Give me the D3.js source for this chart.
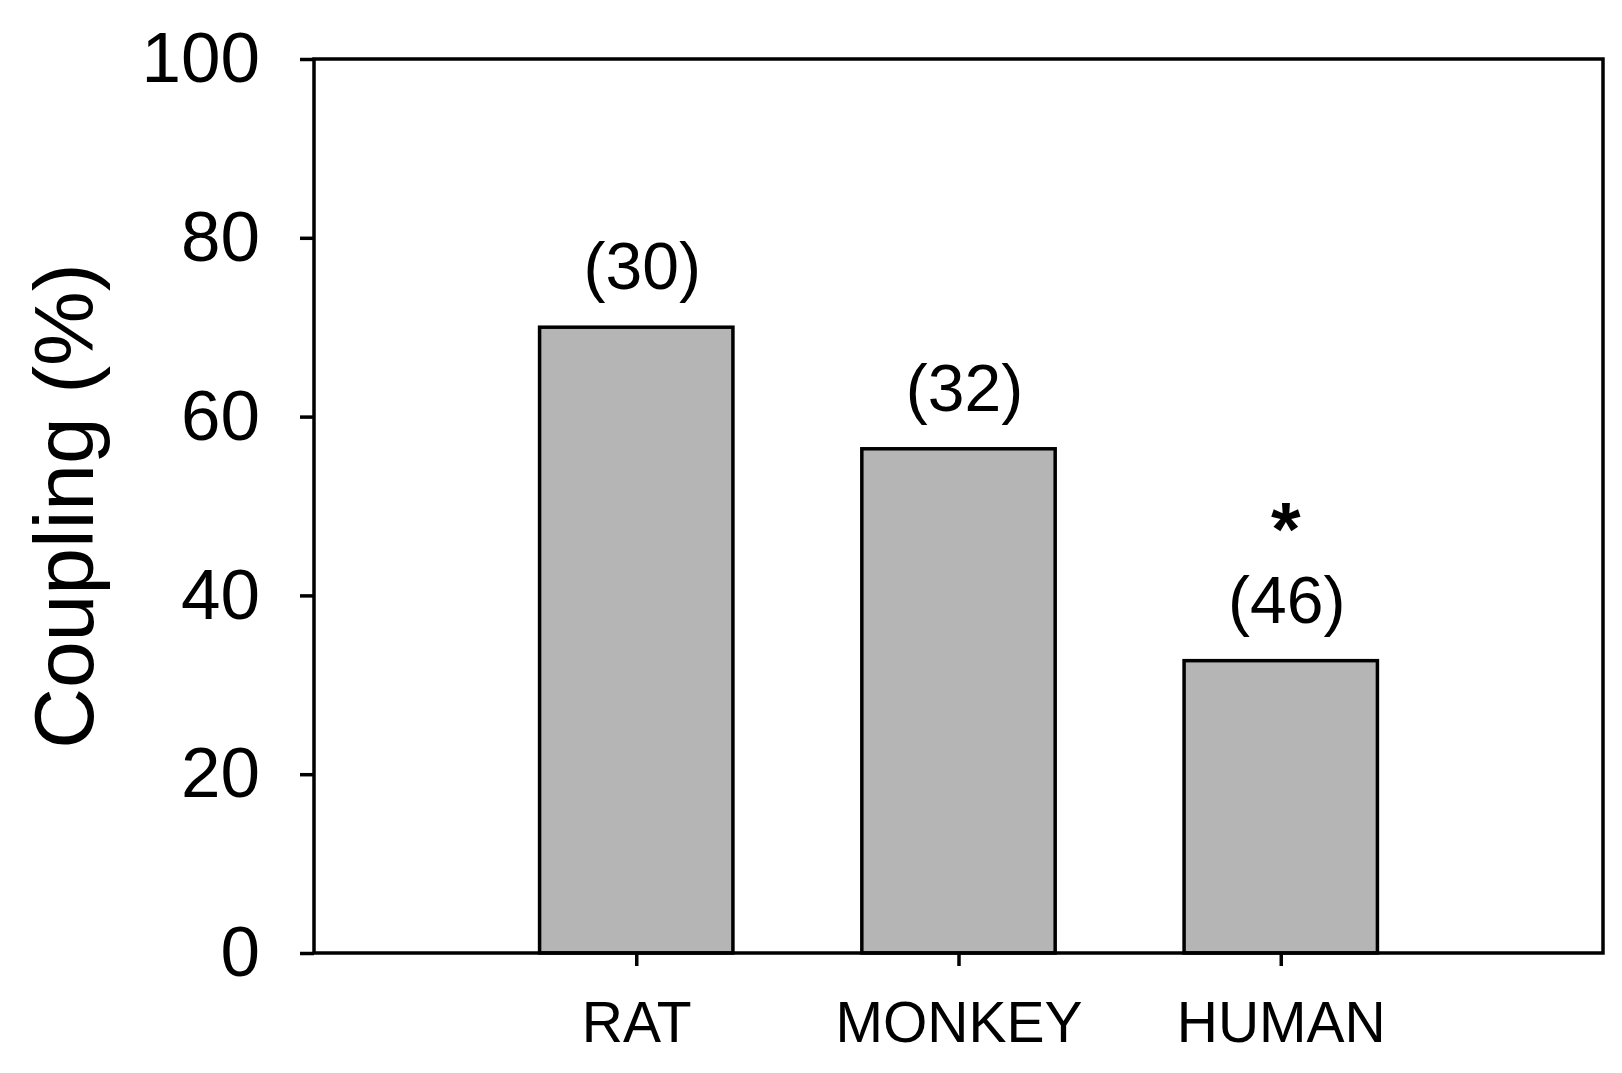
<!DOCTYPE html>
<html>
<head>
<meta charset="utf-8">
<script src="https://cdn.jsdelivr.net/npm/d3@7"></script>
<style>
  html, body { margin: 0; padding: 0; background: #fff; }
  svg { display: block; font-family: "Liberation Sans", Arial, Helvetica, sans-serif; }
</style>
</head>
<body>
<svg id="chart" width="1622" height="1073"></svg>
<script>
// ---- data ----
const categories = ["RAT", "MONKEY", "HUMAN"];
const couplingValues = [70.0, 56.4, 32.7];
const sampleSizes = ["(30)", "(32)", "(46)"];
const significance = ["", "", "*"];
const yTicks = [0, 20, 40, 60, 80, 100];
const yLabel = "Coupling (%)";

// ---- layout ----
const plotLeft = 314, plotRight = 1603, plotTop = 59, plotBottom = 953;

const svg = d3.select("#chart");

const x = d3.scalePoint().domain(categories).range([plotLeft, plotRight]).padding(1);
const y = d3.scaleLinear().domain([0, 100]).range([plotBottom, plotTop]);
const barW = x.step() * 0.6;

const rows = categories.map((c, i) => ({ c, v: couplingValues[i], n: sampleSizes[i], s: significance[i] }));

// bars
svg.append("g").selectAll("rect").data(rows).join("rect")
  .attr("x", d => x(d.c) - barW / 2)
  .attr("y", d => y(d.v))
  .attr("width", barW)
  .attr("height", d => y(0) - y(d.v))
  .attr("fill", "#b5b5b5")
  .attr("stroke", "#000")
  .attr("stroke-width", 3.5);

// frame
svg.append("rect")
  .attr("x", plotLeft).attr("y", plotTop)
  .attr("width", plotRight - plotLeft).attr("height", plotBottom - plotTop)
  .attr("fill", "none").attr("stroke", "#000").attr("stroke-width", 3.5);

// y axis
const yAxis = svg.append("g").attr("transform", `translate(${plotLeft},0)`)
  .call(d3.axisLeft(y).tickValues(yTicks).tickSize(14).tickSizeOuter(0).tickPadding(40));
yAxis.select(".domain").remove();
yAxis.selectAll(".tick line").attr("stroke", "#000").attr("stroke-width", 3.5);
yAxis.selectAll(".tick text").attr("font-size", 71).attr("fill", "#000")
  .attr("font-family", "'Liberation Sans', Arial, sans-serif");

// x axis
const xAxis = svg.append("g").attr("transform", `translate(0,${plotBottom})`)
  .call(d3.axisBottom(x).tickSize(13).tickSizeOuter(0).tickPadding(36));
xAxis.select(".domain").remove();
xAxis.selectAll(".tick line").attr("stroke", "#000").attr("stroke-width", 3.5);
xAxis.selectAll(".tick text").attr("font-size", 57).attr("fill", "#000")
  .attr("font-family", "'Liberation Sans', Arial, sans-serif");

// sample size labels
svg.append("g").selectAll("text").data(rows).join("text")
  .attr("x", d => x(d.c) + 6)
  .attr("y", d => y(d.v) - 38)
  .attr("text-anchor", "middle")
  .attr("font-size", 66)
  .attr("fill", "#000")
  .text(d => d.n);

// significance marks
svg.append("g").selectAll("text").data(rows.filter(d => d.s)).join("text")
  .attr("x", d => x(d.c) + 5)
  .attr("y", d => y(d.v) - 106)
  .attr("text-anchor", "middle")
  .attr("font-size", 76)
  .attr("font-weight", "bold")
  .attr("fill", "#000")
  .text(d => d.s);

// y axis title
svg.append("text")
  .attr("transform", `translate(93,${(plotTop + plotBottom) / 2}) rotate(-90)`)
  .attr("text-anchor", "middle")
  .attr("font-size", 84)
  .attr("fill", "#000")
  .text(yLabel);
</script>
</body>
</html>
